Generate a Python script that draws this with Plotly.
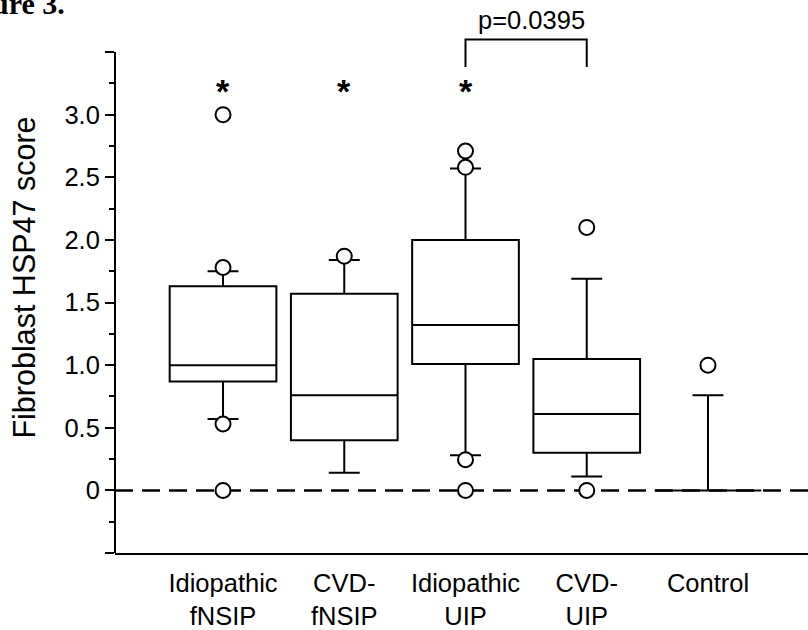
import plotly.graph_objects as go

# ---- data ----
categories = ["Idiopathic<br>fNSIP", "CVD-<br>fNSIP", "Idiopathic<br>UIP", "CVD-<br>UIP", "Control"]
positions = [1, 2, 3, 4, 5]
q1 = [0.87, 0.40, 1.01, 0.30, 0.0]
median = [1.00, 0.76, 1.32, 0.61, 0.0]
q3 = [1.63, 1.57, 2.00, 1.05, 0.0]
lower_whisker = [0.57, 0.14, 0.28, 0.11, 0.0]
upper_whisker = [1.75, 1.84, 2.57, 1.69, 0.76]

outliers_idio_fnsip = [3.0, 1.78, 0.53, 0.0]
outliers_cvd_fnsip = [1.87]
outliers_idio_uip = [2.71, 2.58, 0.245, 0.0]
outliers_cvd_uip = [2.10, 0.0]
outliers_control = [1.0]

asterisk_pos = [1, 2, 3]
asterisk_y = [3.19, 3.19, 3.19]

bracket_pos = [3, 4]
bracket_top = 3.60
bracket_bottom = 3.38
p_label = "p=0.0395"
p_label_y = 3.76

y_major = [-0.5, 0, 0.5, 1.0, 1.5, 2.0, 2.5, 3.0, 3.5]
y_major_text = ["", "0", "0.5", "1.0", "1.5", "2.0", "2.5", "3.0", ""]
y_minor = [-0.25, 0.25, 0.75, 1.25, 1.75, 2.25, 2.75, 3.25]

FONT = "Liberation Sans, Arial, sans-serif"

fig = go.Figure()

fig.add_trace(go.Box(
    x=positions, q1=q1, median=median, q3=q3,
    lowerfence=lower_whisker, upperfence=upper_whisker,
    width=0.88, whiskerwidth=0.29,
    line=dict(color="black", width=2), fillcolor="white",
    boxpoints=False, showlegend=False, hoverinfo="skip",
))

out_groups = [outliers_idio_fnsip, outliers_cvd_fnsip, outliers_idio_uip,
              outliers_cvd_uip, outliers_control]
ox, oy = [], []
for p, vals in zip(positions, out_groups):
    for v in vals:
        ox.append(p)
        oy.append(v)
fig.add_trace(go.Scatter(
    x=ox, y=oy, mode="markers", cliponaxis=False, showlegend=False,
    marker=dict(symbol="circle", size=15, color="white",
                line=dict(color="black", width=2)),
))

# zero dashed line
fig.add_shape(type="line", xref="paper", x0=0, x1=1, yref="y", y0=0, y1=0,
              line=dict(color="black", width=2.5, dash="18px,9px"), layer="below")
# y axis line (ends at 3.5)
fig.add_shape(type="line", xref="paper", x0=0, x1=0, yref="y",
              y0=y_major[0], y1=y_major[-1], line=dict(color="black", width=2))

# bracket
fig.add_shape(type="path", xref="x", yref="y",
              path=f"M {bracket_pos[0]},{bracket_bottom} L {bracket_pos[0]},{bracket_top} "
                   f"L {bracket_pos[1]},{bracket_top} L {bracket_pos[1]},{bracket_bottom}",
              line=dict(color="black", width=2))
fig.add_annotation(x=(bracket_pos[0] + bracket_pos[1]) / 2 + 0.045, y=p_label_y,
                   xref="x", yref="y", text=p_label, showarrow=False,
                   font=dict(family=FONT, size=25.5, color="black"),
                   xanchor="center", yanchor="middle")

for xp, yp in zip(asterisk_pos, asterisk_y):
    fig.add_annotation(x=xp, y=yp, xref="x", yref="y", text="<b>*</b>",
                       showarrow=False, font=dict(family=FONT, size=34, color="black"),
                       xanchor="center", yanchor="middle")

fig.add_annotation(x=-0.181, y=0.964, xref="paper", yref="paper", text="<b>ure 3.</b>",
                   showarrow=False, xanchor="left", yanchor="bottom",
                   font=dict(family="Liberation Serif, Times New Roman, serif", size=30, color="black"))

fig.update_layout(
    width=808, height=630,
    margin=dict(l=115, r=0, t=2, b=72),
    plot_bgcolor="white", paper_bgcolor="white",
    font=dict(family=FONT, color="black"),
    xaxis=dict(range=[0.109, 5.825], tickvals=positions, ticktext=categories,
               showline=True, linecolor="black", linewidth=2, ticks="",
               ticklabelstandoff=6,
               showgrid=False, zeroline=False,
               tickfont=dict(size=25.5, family=FONT, color="black")),
    yaxis=dict(range=[-0.5, 3.9], tickvals=y_major, ticktext=y_major_text,
               ticks="outside", ticklen=9, tickwidth=2, tickcolor="black",
               showline=False, showgrid=False, zeroline=False,
               minor=dict(tickvals=y_minor, ticks="outside", ticklen=5,
                          tickwidth=2, tickcolor="black", showgrid=False),
               tickfont=dict(size=25.5, family=FONT, color="black"),
               title=dict(text="Fibroblast HSP47 score", standoff=19,
                          font=dict(size=30.5, family=FONT, color="black"))),
)

fig.write_html("out.html", config={"displayModeBar": False},
               post_script="document.body.style.margin='0';document.body.style.overflow='hidden';")
